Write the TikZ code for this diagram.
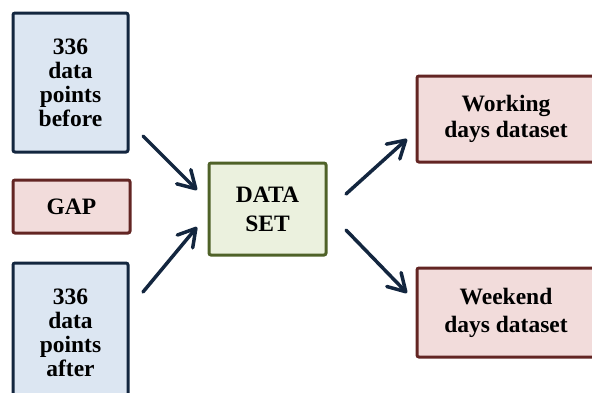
\documentclass[tikz,border=0pt]{standalone}
\usepackage{fontspec}
\setmainfont{Liberation Serif}
\usetikzlibrary{arrows.meta}
\definecolor{navy}{HTML}{13263F}
\definecolor{bluefill}{HTML}{DCE6F2}
\definecolor{darkred}{HTML}{632523}
\definecolor{pinkfill}{HTML}{F2DCDB}
\definecolor{olive}{HTML}{4F6228}
\definecolor{greenfill}{HTML}{EBF1DE}
\tikzset{
  box/.style={rectangle, line width=3pt, rounded corners=2pt, inner sep=0pt,
    align=center, font=\fontsize{23.5}{24}\selectfont\bfseries},
  bluebox/.style={box, draw=navy, fill=bluefill},
  pinkbox/.style={box, draw=darkred, fill=pinkfill},
  greenbox/.style={box, draw=olive, fill=greenfill},
  arr/.style={draw=navy, line width=3.5pt, line cap=round,
    -{Straight Barb[length=17pt, width=20pt, line width=3.5pt, round]}}
}
\begin{document}
\begin{tikzpicture}[x=1pt, y=-1pt]
\useasboundingbox (0,0) rectangle (592,392);
\clip (0,0) rectangle (592,392);
\node[bluebox, minimum width=115pt, minimum height=139pt] (before) at (70.5,82.5) {336\\data\\points\\before};
\node[pinkbox, minimum width=117pt, minimum height=53pt] (gap) at (71.5,206.5) {GAP};
\node[bluebox, minimum width=115pt, minimum height=139pt] (after) at (70.5,332.5) {336\\data\\points\\after};
\node[greenbox, minimum width=117pt, minimum height=92pt, font=\fontsize{23.5}{29}\selectfont\bfseries] (data) at (267.5,209) {DATA\\SET};
\node[pinkbox, minimum width=178pt, minimum height=86pt, font=\fontsize{23.5}{26}\selectfont\bfseries] (work) at (506,119) {Working\\days dataset};
\node[pinkbox, minimum width=178pt, minimum height=89pt, font=\fontsize{23.5}{28}\selectfont\bfseries] (week) at (506,312.5) {Weekend\\days dataset};
\coordinate (a1s) at (143,136);
\coordinate (a1e) at (197,190);
\coordinate (a2s) at (143,292);
\coordinate (a2e) at (197,227);
\coordinate (a3s) at (346,194);
\coordinate (a3e) at (407,139);
\coordinate (a4s) at (346,230);
\coordinate (a4e) at (407,293);
\draw[arr] (a1s) -- (a1e);
\draw[arr] (a2s) -- (a2e);
\draw[arr] (a3s) -- (a3e);
\draw[arr] (a4s) -- (a4e);
\end{tikzpicture}
\end{document}
